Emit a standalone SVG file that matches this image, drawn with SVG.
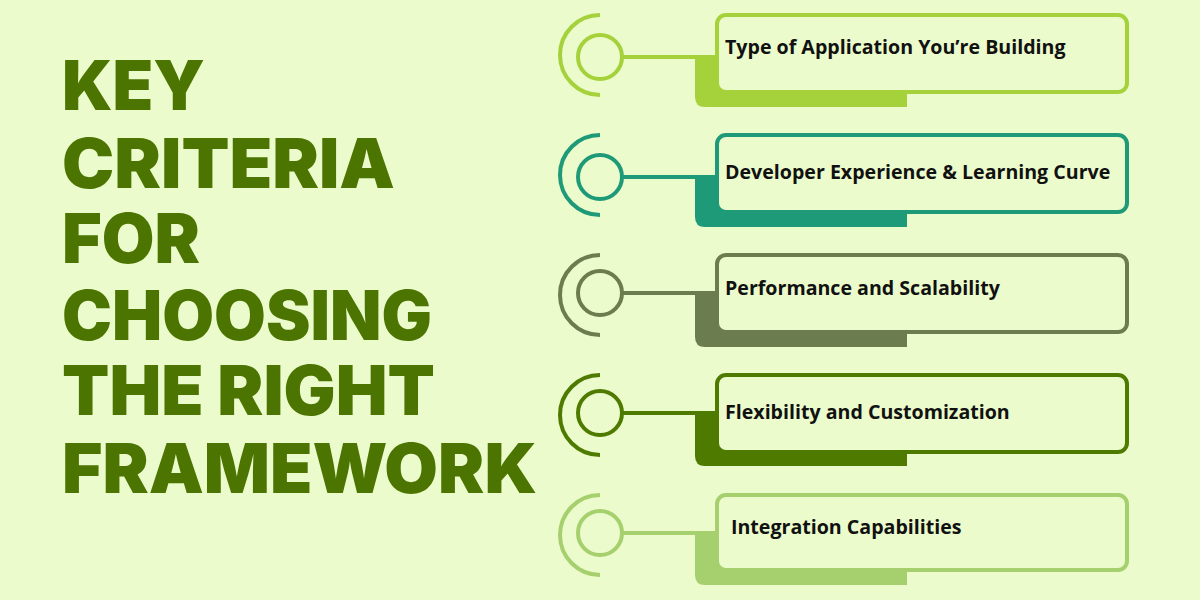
<svg xmlns="http://www.w3.org/2000/svg" width="1200" height="600" viewBox="0 0 1200 600">
<style>
.t{font-family:Inter,"Liberation Sans",sans-serif;font-weight:900;font-size:69px;fill:#4b7500}
.l{font-family:"Open Sans","Liberation Sans",sans-serif;font-weight:700;font-size:19.6px;fill:#111}
.box{fill:#ebfbcb;stroke-width:4}
.ring{fill:none;stroke-width:4}
</style>
<rect width="1200" height="600" fill="#ebfbcb"/>
<g id="title">
<text class="t" x="62" y="110" textLength="143" lengthAdjust="spacingAndGlyphs">KEY</text>
<text class="t" x="62" y="188" textLength="333" lengthAdjust="spacingAndGlyphs">CRITERIA</text>
<text class="t" x="62" y="263" textLength="138" lengthAdjust="spacingAndGlyphs">FOR</text>
<text class="t" x="62" y="340" textLength="370" lengthAdjust="spacingAndGlyphs">CHOOSING</text>
<text class="t" x="62" y="415" textLength="373" lengthAdjust="spacingAndGlyphs">THE RIGHT</text>
<text class="t" x="62" y="493" textLength="475" lengthAdjust="spacingAndGlyphs">FRAMEWORK</text>
</g>
<g id="connectors">
<line x1="622" y1="57" x2="700" y2="57" stroke="#a5d13a" stroke-width="4"/>
<line x1="622" y1="177" x2="700" y2="177" stroke="#1f9a78" stroke-width="4"/>
<line x1="622" y1="293" x2="700" y2="293" stroke="#6b7d4f" stroke-width="4"/>
<line x1="622" y1="413" x2="700" y2="413" stroke="#4e7a00" stroke-width="4"/>
<line x1="622" y1="533" x2="700" y2="533" stroke="#a6cf6e" stroke-width="4"/>
</g>
<g id="n1">
<path d="M600 15 A40 40 0 0 0 600 95" class="ring" stroke="#a5d13a"/>
<circle cx="600" cy="57" r="22" class="ring" stroke="#a5d13a"/>
<path d="M695 55 H907 V107 H705 Q695 107 695 97 Z" fill="#a5d13a"/>
<rect x="717" y="15" width="410" height="77" rx="9" class="box" stroke="#a5d13a"/>
<text class="l" x="725" y="54">Type of Application You’re Building</text>
</g>
<g id="n2">
<path d="M600 135 A40 40 0 0 0 600 215" class="ring" stroke="#1f9a78"/>
<circle cx="600" cy="177" r="22" class="ring" stroke="#1f9a78"/>
<path d="M695 175 H907 V227 H705 Q695 227 695 217 Z" fill="#1f9a78"/>
<rect x="717" y="135" width="410" height="77" rx="9" class="box" stroke="#1f9a78"/>
<text class="l" x="725" y="179">Developer Experience &amp; Learning Curve</text>
</g>
<g id="n3">
<path d="M600 255 A40 40 0 0 0 600 335" class="ring" stroke="#6b7d4f"/>
<circle cx="600" cy="293" r="22" class="ring" stroke="#6b7d4f"/>
<path d="M695 291 H907 V347 H705 Q695 347 695 337 Z" fill="#6b7d4f"/>
<rect x="717" y="255" width="410" height="77" rx="9" class="box" stroke="#6b7d4f"/>
<text class="l" x="725" y="295">Performance and Scalability</text>
</g>
<g id="n4">
<path d="M600 375 A40 40 0 0 0 600 455" class="ring" stroke="#4e7a00"/>
<circle cx="600" cy="413" r="22" class="ring" stroke="#4e7a00"/>
<path d="M695 411 H907 V466 H705 Q695 466 695 456 Z" fill="#4e7a00"/>
<rect x="717" y="375" width="410" height="77" rx="9" class="box" stroke="#4e7a00"/>
<text class="l" x="725" y="419">Flexibility and Customization</text>
</g>
<g id="n5">
<path d="M600 495 A40 40 0 0 0 600 575" class="ring" stroke="#a6cf6e"/>
<circle cx="600" cy="533" r="22" class="ring" stroke="#a6cf6e"/>
<path d="M695 531 H907 V585 H705 Q695 585 695 575 Z" fill="#a6cf6e"/>
<rect x="717" y="495" width="410" height="75" rx="9" class="box" stroke="#a6cf6e"/>
<text class="l" x="731" y="534">Integration Capabilities</text>
</g>
</svg>
